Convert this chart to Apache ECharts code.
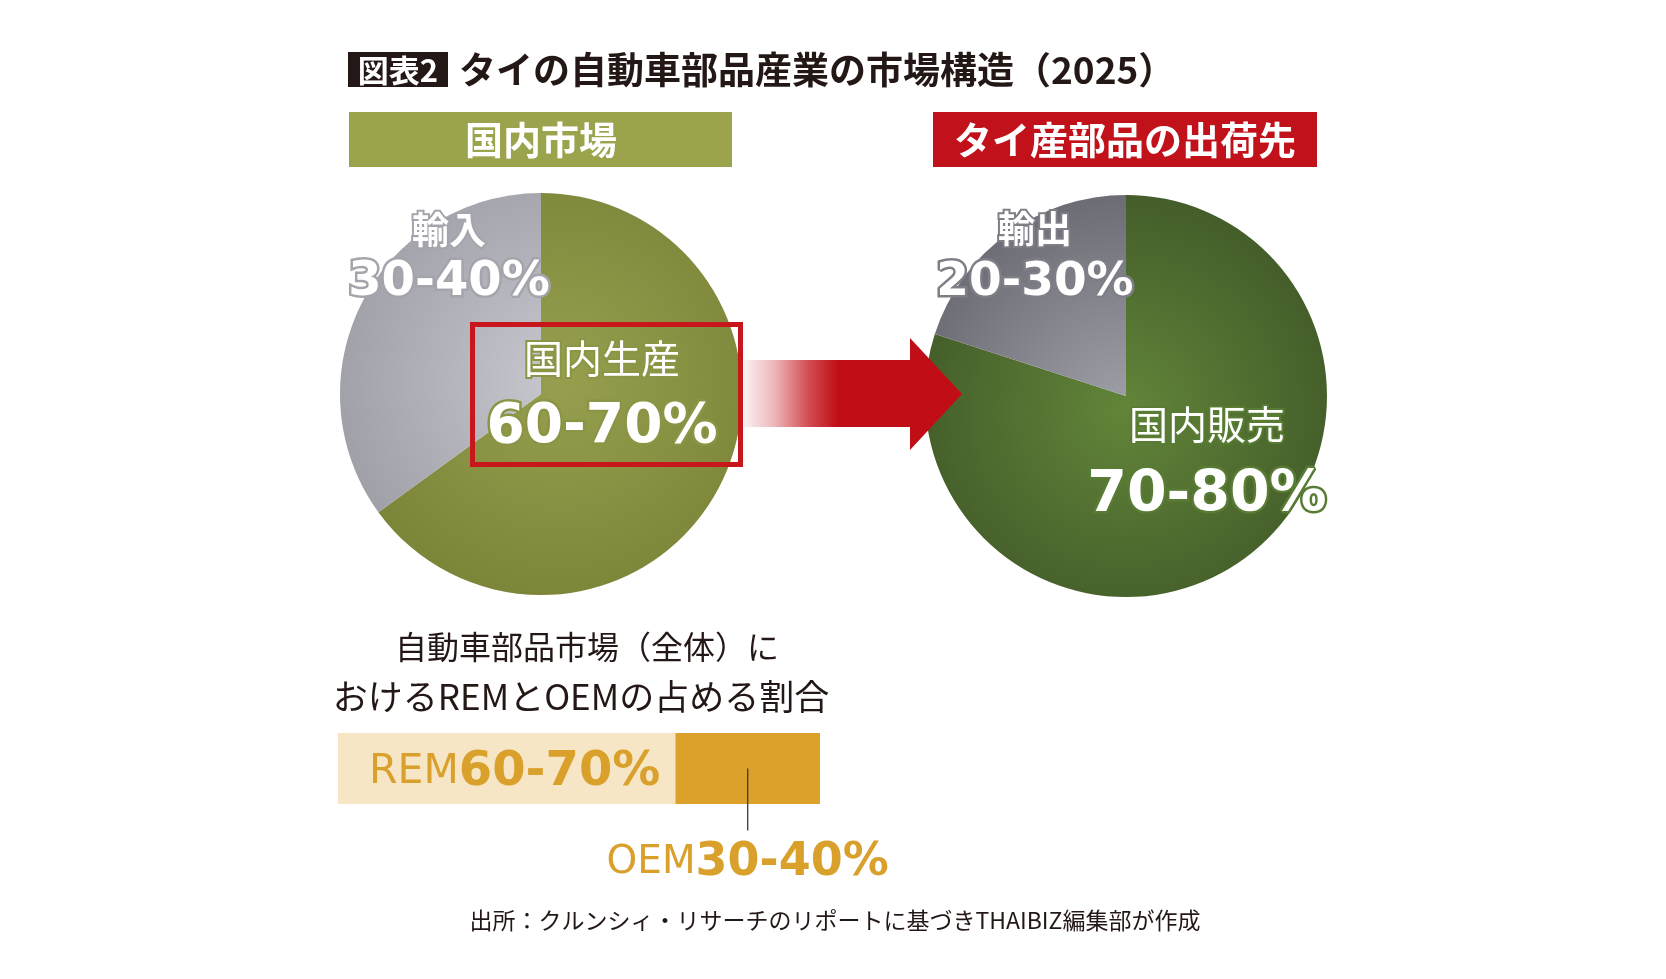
<!DOCTYPE html>
<html>
<head>
<meta charset="utf-8">
<script src="https://cdn.jsdelivr.net/npm/echarts@6/dist/echarts.min.js"></script>
<style>
html, body { margin: 0; padding: 0; background: #fff; }
#main { width: 1666px; height: 979px; }
</style>
</head>
<body>
<div id="main"></div>
<script>
var domesticNames = [ '国内生産', '輸入' ];
var domesticValues = [ 65, 35 ];
var domesticRanges = [ '60-70%', '30-40%' ];

var shipNames = [ '国内販売', '輸出' ];
var shipValues = [ 80, 20 ];
var shipRanges = [ '70-80%', '20-30%' ];

var shareNames = [ 'REM', 'OEM' ];
var shareValues = [ 70, 30 ];
var shareRanges = [ '60-70%', '30-40%' ];

var CJK = '"Noto Sans CJK JP", sans-serif';
var NUM = '"DejaVu Sans", sans-serif';

function radial(cx, cy, r, inner, outer) {
	return {
		type : 'radial', x : cx, y : cy, r : r, global : true,
		colorStops : [ { offset : 0, color : inner }, { offset : 1, color : outer } ]
	};
}

// label block centres inside each pie
var leftLabelPos = [ [ 602, 405 ], [ 449, 261 ] ];
var rightLabelPos = [ [ 1207, 471 ], [ 1035, 261 ] ];

function pieRich(border, nameSize, nameWeight, nameLh, numSize, numLh) {
	return {
		n : { fontFamily : CJK, fontSize : nameSize, fontWeight : nameWeight, color : '#fff',
			textBorderColor : border, textBorderWidth : 4, lineHeight : nameLh, align : 'center' },
		v : { fontFamily : NUM, fontSize : numSize, fontWeight : 'bold', color : '#fff',
			textBorderColor : border, textBorderWidth : 5, lineHeight : numLh, align : 'center' }
	};
}

function pieData(names, values, ranges, styles) {
	return names.map(function(n, i) {
		return {
			name : n,
			value : values[i],
			itemStyle : { color : styles[i].color },
			label : {
				formatter : '{n|' + n + '}\n{v|' + ranges[i] + '}',
				rich : styles[i].rich
			}
		};
	});
}

var leftData = pieData(domesticNames, domesticValues, domesticRanges, [ {
	color : radial(560, 380, 220, '#979f4f', '#7d8539'),
	rich : pieRich('#8c9545', 39, 'normal', 46, 55, 94)
}, {
	color : radial(560, 380, 220, '#c8c9cf', '#a0a1a9'),
	rich : pieRich('#a3a4ac', 37, 'bold', 44, 48, 62)
} ]);

var rightData = pieData(shipNames, shipValues, shipRanges, [ {
	color : radial(1125, 410, 215, '#628539', '#445d2a'),
	rich : pieRich('#587c34', 39, 'normal', 50, 57, 94)
}, {
	color : radial(1125, 410, 215, '#a0a0a8', '#6c6c75'),
	rich : pieRich('#7e7e87', 37, 'bold', 44, 47, 64)
} ]);

function pieSeries(center, data, pos) {
	return {
		type : 'pie',
		center : center,
		radius : 201,
		startAngle : 90,
		clockwise : true,
		silent : true,
		emphasis : { disabled : true },
		label : { show : true, position : 'inside' },
		labelLine : { show : false },
		labelLayout : function(p) {
			return { x : pos[p.dataIndex][0], y : pos[p.dataIndex][1], align : 'center', verticalAlign : 'middle' };
		},
		data : data
	};
}

function shareRich(a, b) {
	return {
		a : { fontFamily : NUM, fontSize : a, color : '#d9a02c' },
		b : { fontFamily : NUM, fontSize : b, fontWeight : 'bold', color : '#d9a02c' }
	};
}

var chart = echarts.init(document.getElementById('main'));

var option = {
	backgroundColor : '#ffffff',
	animation : false,
	grid : { left : 338, top : 733, width : 482, height : 71 },
	xAxis : { type : 'value', min : 0, max : 100, show : false },
	yAxis : { type : 'category', data : [ '' ], show : false },
	series : [ pieSeries([ 541, 394 ], leftData, leftLabelPos),
		pieSeries([ 1126, 396 ], rightData, rightLabelPos), {
		type : 'bar',
		name : shareNames[0],
		stack : 'share',
		barWidth : '100%',
		silent : true,
		itemStyle : { color : '#f7e6c6' },
		label : {
			show : true,
			position : 'insideLeft',
			distance : 31,
			offset : [ 0, 4 ],
			formatter : '{a|' + shareNames[0] + '}{b|' + shareRanges[0] + '}',
			rich : shareRich(41, 48)
		},
		data : [ shareValues[0] ]
	}, {
		type : 'bar',
		name : shareNames[1],
		stack : 'share',
		barWidth : '100%',
		silent : true,
		itemStyle : { color : '#dca12a' },
		label : {
			show : true,
			position : 'bottom',
			distance : 36,
			formatter : '{a|' + shareNames[1] + '}{b|' + shareRanges[1] + '}',
			rich : shareRich(39, 46)
		},
		data : [ shareValues[1] ]
	} ],
	graphic : [ {
		type : 'rect', z : 10,
		shape : { x : 348, y : 52, width : 100, height : 35 },
		style : { fill : '#231815' }
	}, {
		type : 'text', z : 11, x : 398, y : 70,
		style : { text : '図表2', fill : '#fff', font : 'bold 31px ' + CJK, align : 'center', verticalAlign : 'middle' }
	}, {
		type : 'text', z : 11, x : 459, y : 70,
		style : { text : 'タイの自動車部品産業の市場構造（2025）', fill : '#231815', font : 'bold 37px ' + CJK, align : 'left', verticalAlign : 'middle' }
	}, {
		type : 'rect', z : 10,
		shape : { x : 349, y : 112, width : 383, height : 55 },
		style : { fill : '#9ba34c' }
	}, {
		type : 'text', z : 11, x : 541, y : 140,
		style : { text : '国内市場', fill : '#fff', font : 'bold 38px ' + CJK, align : 'center', verticalAlign : 'middle' }
	}, {
		type : 'rect', z : 10,
		shape : { x : 933, y : 112, width : 384, height : 55 },
		style : { fill : '#c1121b' }
	}, {
		type : 'text', z : 11, x : 1125, y : 140,
		style : { text : 'タイ産部品の出荷先', fill : '#fff', font : 'bold 38px ' + CJK, align : 'center', verticalAlign : 'middle' }
	}, {
		type : 'rect', z : 10,
		shape : { x : 472.5, y : 324.5, width : 268, height : 140 },
		style : { fill : 'none', stroke : '#c8161d', lineWidth : 5 }
	}, {
		type : 'polygon', z : 10,
		shape : { points : [ [ 744, 360 ], [ 910, 360 ], [ 910, 338 ], [ 962, 394 ], [ 910, 450 ], [ 910, 427 ], [ 744, 427 ] ] },
		style : {
			fill : {
				type : 'linear', x : 0, y : 0, x2 : 1, y2 : 0,
				colorStops : [ { offset : 0, color : 'rgba(193,14,22,0.06)' },
					{ offset : 0.14, color : 'rgba(193,14,22,0.3)' },
					{ offset : 0.3, color : 'rgba(193,14,22,0.75)' },
					{ offset : 0.43, color : '#c10e16' },
					{ offset : 1, color : '#c10e16' } ]
			}
		}
	}, {
		type : 'text', z : 11, x : 587, y : 647,
		style : { text : '自動車部品市場（全体）に', fill : '#231815', font : '32px ' + CJK, align : 'center', verticalAlign : 'middle' }
	}, {
		type : 'text', z : 11, x : 581, y : 697,
		style : { text : 'おけるREMとOEMの占める割合', fill : '#231815', font : '35px ' + CJK, align : 'center', verticalAlign : 'middle' }
	}, {
		type : 'text', z : 11, x : 835, y : 920,
		style : { text : '出所：クルンシィ・リサーチのリポートに基づきTHAIBIZ編集部が作成', fill : '#231815', font : '23px ' + CJK, align : 'center', verticalAlign : 'middle' }
	} ]
};

chart.setOption(option);

// leader line from the middle of the OEM block down to its label
var mid = chart.convertToPixel({ gridIndex : 0 }, [ shareValues[0] + shareValues[1] / 2, 0 ]);
chart.setOption({
	graphic : option.graphic.concat([ {
		type : 'line', z : 12,
		shape : { x1 : mid[0], y1 : mid[1], x2 : mid[0], y2 : mid[1] + 62 },
		style : { stroke : '#3a3a3a', lineWidth : 1.3 }
	} ])
});
</script>
</body>
</html>
